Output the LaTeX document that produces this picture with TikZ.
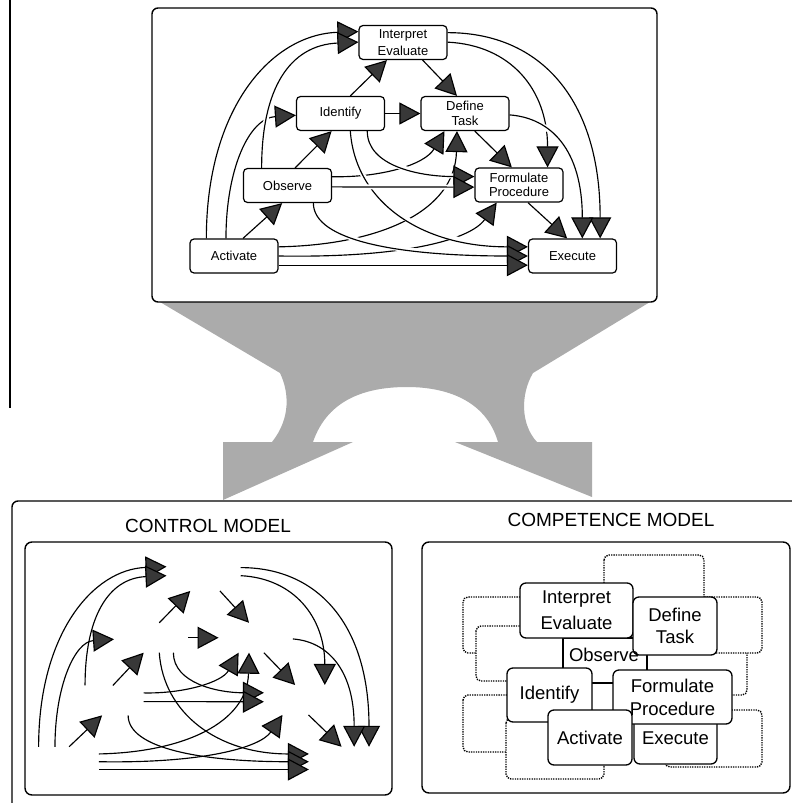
\documentclass[tikz,border=0pt]{standalone}
\usepackage{fontspec}
\setmainfont{Liberation Sans}
\usetikzlibrary{arrows.meta,calc}
\pgfdeclarelayer{links}
\pgfsetlayers{links,main}

% points along the four sides of a box (fraction from left / from top)
\newcommand\sideN[2]{($(#1.north west)!#2!(#1.north east)$)}
\newcommand\sideS[2]{($(#1.south west)!#2!(#1.south east)$)}
\newcommand\sideW[2]{($(#1.north west)!#2!(#1.south west)$)}
\newcommand\sideE[2]{($(#1.north east)!#2!(#1.south east)$)}

% all 21 forward links between the seven stages; #1 = name prefix
\newcommand\flowlinks[1]{%
  \draw[link] \sideE{#1AC}{.24} .. controls +(102,-2) and +(-2,80) .. \sideS{#1DT}{.41};
  \draw[link] \sideE{#1AC}{.50} .. controls +(122,2) and +(-27,38) .. \sideS{#1FP}{.25};
  \draw[link] \sideE{#1OB}{.25} .. controls +(48,1) and +(-20,34) .. \sideS{#1DT}{.27};
  \draw[link] \sideS{#1ID}{.80} .. controls +(0,35) and +(-55,0) .. \sideW{#1FP}{.26};
  \draw[link] \sideS{#1ID}{.61} .. controls +(5,70) and +(-108,0) .. \sideW{#1EX}{.24};
  \draw[link] \sideS{#1OB}{.79} .. controls +(0,38) and +(-128,0) .. \sideW{#1EX}{.50};
  \draw[link] \sideE{#1AC}{.76} -- \sideW{#1EX}{.76};
  \draw[link] \sideE{#1OB}{.54} -- \sideW{#1FP}{.56};
  \draw[link] \sideN{#1AC}{.19} .. controls +(0,-129) and +(-88,3) .. \sideW{#1IE}{.19};
  \draw[link] \sideN{#1AC}{.41} .. controls +(0,-69) and +(-47,3) .. \sideW{#1ID}{.55};
  \draw[link] \sideN{#1OB}{.21} .. controls +(0,-79) and +(-69,3) .. \sideW{#1IE}{.49};
  \draw[link] \sideE{#1IE}{.22} .. controls +(93,0) and +(0,-139) .. \sideN{#1EX}{.81};
  \draw[link] \sideE{#1IE}{.49} .. controls +(63,3) and +(0,-78) .. \sideN{#1FP}{.82};
  \draw[link] \sideE{#1DT}{.54} .. controls +(41,3) and +(0,-89) .. \sideN{#1EX}{.61};
  \draw[link] \sideN{#1AC}{.60} -- \sideS{#1OB}{.44};
  \draw[link] \sideN{#1OB}{.585} -- \sideS{#1ID}{.40};
  \draw[link] \sideN{#1ID}{.61} -- \sideS{#1IE}{.32};
  \draw[link] \sideS{#1IE}{.72} -- \sideN{#1DT}{.41};
  \draw[link] \sideE{#1ID}{.50} -- \sideW{#1DT}{.50};
  \draw[link] \sideS{#1DT}{.61} -- \sideN{#1FP}{.42};
  \draw[link] \sideS{#1FP}{.60} -- \sideN{#1EX}{.44};
}

\tikzset{
  panel/.style={draw, line width=1.4pt, rounded corners=6pt},
  box/.style={draw, line width=1.2pt, rounded corners=4pt, fill=white,
    minimum width=88pt, minimum height=34pt, inner sep=0pt, align=center,
    font=\fontsize{13}{14.5}\selectfont},
  ghost/.style={minimum width=88pt, minimum height=34pt, inner sep=0pt, transform shape},
  linkextra/.style={},
  link/.style={line width=1.15pt, -{Triangle[length=21pt,width=22pt,fill=black!78]}, linkextra},
  cbox/.style={draw, line width=1.3pt, rounded corners=6pt, fill=white, inner sep=0pt,
    align=center, font=\fontsize{18.5}{22}\selectfont},
  ghostbox/.style={draw, dash pattern=on 1.3pt off 1.1pt, line width=1.4pt,
    rounded corners=5pt, fill=white},
  heading/.style={font=\fontsize{19}{22}\selectfont, inner sep=0pt},
}

\begin{document}
\begin{tikzpicture}[x=1pt, y=-1pt]
\useasboundingbox (0,0) rectangle (792,803);
\clip (0,0) rectangle (792,803);

% margin rule
\draw[line width=1.2pt] (10,0) -- (10,408);

% funnel joining the upper panel to the two lower panels
\fill[black!33] (160,302) -- (280,373)
  .. controls (289,392) and (291,418) .. (272,442)
  -- (223,442) -- (223,500) -- (353,442) -- (313,442)
  .. controls (328,398) and (368,387) .. (407,387)
  .. controls (446,387) and (486,400) .. (498,442)
  -- (455,442) -- (592,497) -- (592,442) -- (537,442)
  .. controls (521,425) and (520,395) .. (533,373)
  -- (650,302) -- cycle;

% ---------- upper panel: full network ----------
\draw[panel] (152,8) rectangle (657,302);
\node[box, font=\fontsize{13}{17.5}\selectfont] (IE) at (403,42.5) {Interpret\\Evaluate};
\node[box] (ID) at (340.5,113.5) {Identify};
\node[box] (DT) at (465,113.5) {Define\\Task};
\node[box] (OB) at (287.5,185.5) {Observe};
\node[box] (FP) at (519,185) {Formulate\\Procedure};
\node[box] (AC) at (234,256) {Activate};
\node[box] (EX) at (572.5,256) {Execute};
\begin{scope}[linkextra/.style={preaction={draw=white, line width=5pt, -}}]
  \begin{pgfonlayer}{links}
    \flowlinks{}
  \end{pgfonlayer}
\end{scope}

% ---------- lower panel ----------
\draw[panel] (12,501) rectangle (830,830);
\node[heading] (ctitle) at (208,526) {CONTROL MODEL};
\node[heading] (ktitle) at (611,520) {COMPETENCE MODEL};

% control model: the links alone
\draw[panel, rounded corners=7pt] (25,542) rectangle (392,795);
\begin{scope}[shift={(-134.9,539)}, xscale=0.84, yscale=0.87]
  \node[ghost] (cIE) at (403,42.5) {};
  \node[ghost] (cID) at (340.5,113.5) {};
  \node[ghost] (cDT) at (465,113.5) {};
  \node[ghost] (cOB) at (287.5,185.5) {};
  \node[ghost] (cFP) at (519,185) {};
  \node[ghost] (cAC) at (234,256) {};
  \node[ghost] (cEX) at (572.5,256) {};
  \begin{pgfonlayer}{links}
    \flowlinks{c}
  \end{pgfonlayer}
\end{scope}

% competence model: the stages alone, packed together
\draw[panel, rounded corners=7pt] (422,542) rectangle (790,793);
\draw[ghostbox] (640,625) rectangle (747,695);
\draw[ghostbox] (640,597) rectangle (762,653);
\draw[ghostbox] (604,555) rectangle (704,620);
\draw[ghostbox] (463,597) rectangle (600,653);
\draw[ghostbox] (476,626) rectangle (600,681);
\draw[ghostbox] (463,695) rectangle (560,752);
\draw[ghostbox] (506,718) rectangle (604,779);
\draw[ghostbox] (665,710) rectangle (762,767);
\node[cbox, rounded corners=0pt, minimum width=84pt, minimum height=45pt] (kOB) at (605,660.5) {};
\node[cbox, minimum width=113pt, minimum height=55pt, font=\fontsize{18.5}{26}\selectfont] (kIE) at (576.5,610.5) {Interpret\\Evaluate};
\node[cbox, minimum width=84pt, minimum height=58pt, font=\fontsize{18.5}{21.5}\selectfont] (kDT) at (675,626) {Define\\Task};
\node[cbox, minimum width=83pt, minimum height=52pt] (kEX) at (675.5,738) {Execute};
\node[cbox, minimum width=119pt, minimum height=54pt, font=\fontsize{18.5}{23}\selectfont] (kFP) at (672.5,697) {Formulate\\Procedure};
\node[cbox, minimum width=85pt, minimum height=54pt] (kID) at (549.5,695) {Identify};
\node[cbox, minimum width=84pt, minimum height=55pt] (kAC) at (590,737.5) {Activate};
\node[font=\fontsize{18.5}{22}\selectfont, inner sep=0pt] (kOBlabel) at (604,655) {Observe};
\end{tikzpicture}
\end{document}
